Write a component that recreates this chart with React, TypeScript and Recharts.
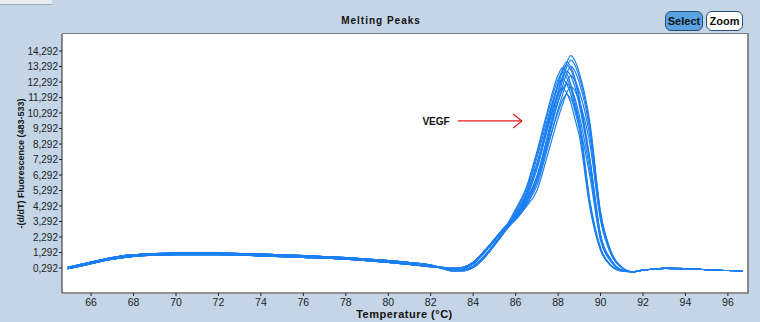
import { LineChart, Line, XAxis, YAxis, ReferenceLine, ReferenceDot } from "recharts";

// temperatures (°C) shared by all curves
const LEFT_TEMPS = [64.9, 66, 67, 68, 69, 70, 72, 74, 76, 78, 80, 81, 82];
const PEAK_TEMPS = [82.5, 83, 83.5, 84, 84.5, 85, 85.5, 86, 86.5, 87, 87.5, 88, 88.2, 88.4, 88.6, 88.8, 89, 89.5, 90, 90.5, 91];
const RIGHT_TEMPS = [91.5, 92, 92.5, 93, 94, 95, 96, 96.7];

// -(d/dT) fluorescence, in thousands; the flat parts are nearly the same for every well
const LEFT_LOW = [0.24, 0.58, 0.86, 1.04, 1.12, 1.15, 1.15, 1.08, 0.98, 0.86, 0.66, 0.53, 0.38];
const LEFT_HIGH = [0.34, 0.68, 0.97, 1.15, 1.23, 1.26, 1.26, 1.19, 1.09, 0.97, 0.77, 0.64, 0.48];
const RIGHT_VALUES = [0.05, 0.15, 0.23, 0.27, 0.25, 0.18, 0.13, 0.12];

// the melting peak of each well, 82.5 – 91 °C
const PEAKS = [
  [0.33, 0.22, 0.26, 0.56, 1.25, 2.05, 2.88, 4.09, 5.48, 7.79, 10.43, 12.74, 13.2, 12.87, 12.14, 10.96, 9.77, 4.62, 1.58, 0.46, 0.11],
  [0.3, 0.14, 0.16, 0.4, 1.02, 1.85, 2.74, 3.88, 5.19, 7.38, 9.88, 12.06, 12.5, 12.19, 11.5, 10.38, 9.25, 4.38, 1.5, 0.44, 0.1],
  [0.35, 0.28, 0.34, 0.66, 1.36, 2.14, 2.95, 3.69, 4.94, 7.02, 9.4, 11.48, 11.9, 11.6, 10.95, 9.88, 8.81, 4.17, 1.43, 0.42, 0.1],
  [0.28, 0.1, 0.1, 0.32, 0.92, 1.76, 2.66, 4.0, 5.35, 7.61, 10.19, 12.45, 12.9, 12.58, 11.87, 10.71, 9.55, 4.52, 1.55, 0.45, 0.1],
  [0.3, 0.14, 0.16, 0.4, 1.02, 1.85, 2.74, 3.75, 5.03, 6.94, 9.66, 12.24, 13.12, 13.6, 13.26, 12.51, 11.29, 7.34, 2.45, 0.82, 0.16],
  [0.35, 0.28, 0.34, 0.66, 1.36, 2.14, 2.95, 3.65, 4.81, 6.63, 9.23, 11.7, 12.55, 13.0, 12.68, 11.96, 10.79, 7.02, 2.34, 0.78, 0.16],
  [0.33, 0.22, 0.26, 0.56, 1.25, 2.05, 2.88, 3.55, 4.51, 6.22, 8.66, 10.98, 11.77, 12.2, 11.9, 11.22, 10.13, 6.59, 2.2, 0.73, 0.15],
  [0.28, 0.1, 0.1, 0.32, 0.92, 1.76, 2.66, 3.45, 4.3, 5.87, 8.17, 10.35, 11.1, 11.5, 11.21, 10.58, 9.55, 6.21, 2.07, 0.69, 0.14],
  [0.3, 0.14, 0.16, 0.4, 1.02, 1.85, 2.74, 3.72, 4.96, 6.83, 9.51, 12.06, 12.93, 13.4, 13.07, 12.33, 11.12, 7.24, 2.41, 0.8, 0.16],
  [0.33, 0.22, 0.26, 0.56, 1.25, 2.05, 2.88, 3.6, 4.75, 6.16, 8.82, 11.62, 12.6, 13.51, 14.0, 13.65, 12.88, 9.66, 3.92, 1.33, 0.35],
  [0.28, 0.1, 0.1, 0.32, 0.92, 1.76, 2.66, 3.55, 4.65, 6.03, 8.63, 11.37, 12.33, 13.22, 13.7, 13.36, 12.6, 9.45, 3.84, 1.3, 0.34],
  [0.3, 0.14, 0.16, 0.4, 1.02, 1.85, 2.74, 3.5, 4.55, 5.85, 8.38, 11.04, 11.97, 12.83, 13.3, 12.97, 12.24, 9.18, 3.72, 1.26, 0.33],
  [0.35, 0.28, 0.34, 0.66, 1.36, 2.14, 2.95, 3.45, 4.4, 5.59, 8.0, 10.54, 11.43, 12.26, 12.7, 12.38, 11.68, 8.76, 3.56, 1.21, 0.32],
  [0.33, 0.22, 0.26, 0.56, 1.25, 2.05, 2.88, 3.4, 4.25, 5.28, 7.56, 9.96, 10.8, 11.58, 12.0, 11.7, 11.04, 8.28, 3.36, 1.14, 0.3],
];

const X_TICKS = [66, 68, 70, 72, 74, 76, 78, 80, 82, 84, 86, 88, 90, 92, 94, 96];
const Y_TICKS = [0.292, 1.292, 2.292, 3.292, 4.292, 5.292, 6.292, 7.292, 8.292, 9.292, 10.292, 11.292, 12.292, 13.292, 14.292];

const temps = [...LEFT_TEMPS, ...PEAK_TEMPS, ...RIGHT_TEMPS];
const series = PEAKS.map((p, k) => [...(k % 2 ? LEFT_HIGH : LEFT_LOW), ...p, ...RIGHT_VALUES]);
const data = temps.map((t, i) => {
  const row: Record<string, number> = { t };
  series.forEach((s, k) => {
    row[`w${k}`] = s[i];
  });
  return row;
});

const LINE = "#1b7ff0";
const FONT = "'Liberation Sans', Arial, sans-serif";

const fmt = (v: number) => v.toFixed(3).replace(".", ",");

function Button({ left, label, active }: { left: number; label: string; active?: boolean }) {
  return (
    <div
      style={{
        position: "absolute",
        left,
        top: 11,
        width: active ? 36 : 35,
        height: 18,
        borderRadius: 6,
        border: "1px solid #2d4d6e",
        background: active ? "#5aa3e2" : "#fff",
        fontFamily: FONT,
        fontWeight: 700,
        fontSize: 11,
        lineHeight: "18px",
        textAlign: "center",
        color: "#111",
      }}
    >
      {label}
    </div>
  );
}

export default function App() {
  return (
    <div style={{ position: "absolute", left: 0, top: 0, width: 760, height: 322, background: "#c3d5e6", overflow: "hidden" }}>
      <div style={{ position: "absolute", left: 0, top: 0, width: 52, height: 4, background: "#e8edf2", borderBottom: "1px solid #9aa8b4" }} />
      <div
        style={{
          position: "absolute",
          left: 0,
          top: 15,
          width: 762,
          textAlign: "center",
          fontFamily: FONT,
          fontWeight: 700,
          fontSize: 10,
          letterSpacing: 1,
          color: "#111",
        }}
      >
        Melting Peaks
      </div>
      <Button left={665} label="Select" active />
      <Button left={706} label="Zoom" />
      <div
        style={{
          position: "absolute",
          left: 62,
          top: 33,
          width: 685,
          height: 260,
          background: "#fff",
          borderTop: "1px solid #7d7d7d",
          borderRight: "2px solid #8a8a8a",
        }}
      />
      <div style={{ position: "absolute", left: 0, top: 0 }}>
        <LineChart width={760} height={322} data={data} margin={{ top: 34, right: 13, bottom: 0, left: 0 }}>
          <XAxis
            dataKey="t"
            type="number"
            domain={[64.63, 96.9]}
            ticks={X_TICKS}
            interval={0}
            allowDataOverflow
            height={29}
            tick={{ fill: "#222", fontSize: 10.5, fontFamily: FONT }}
            tickSize={3}
            tickMargin={3}
            stroke="#222"
            label={{
              value: "Temperature (°C)",
              position: "insideBottom",
              offset: 4,
              style: { fill: "#111", fontSize: 11, fontWeight: 700, fontFamily: FONT, letterSpacing: 0.5 },
            }}
          />
          <YAxis
            type="number"
            domain={[-1.32, 15.39]}
            ticks={Y_TICKS}
            interval={0}
            allowDataOverflow
            width={62}
            tick={{ fill: "#222", fontSize: 10, fontFamily: FONT }}
            tickFormatter={fmt}
            tickSize={3}
            tickMargin={1}
            stroke="#222"
            label={{
              value: "-(d/dT) Fluorescence (483-533)",
              angle: -90,
              position: "center",
              dx: -10,
              style: { fill: "#111", fontSize: 9, fontWeight: 700, fontFamily: FONT, textAnchor: "middle" },
            }}
          />
          {PEAKS.map((_, k) => (
            <Line
              key={k}
              dataKey={`w${k}`}
              type="monotone"
              stroke={LINE}
              strokeWidth={1.2}
              dot={false}
              isAnimationActive={false}
            />
          ))}
          <ReferenceLine segment={[{ x: 83.28, y: 9.78 }, { x: 86.3, y: 9.78 }]} stroke="#e31b1b" strokeWidth={1.2} />
          <ReferenceLine segment={[{ x: 85.88, y: 10.23 }, { x: 86.3, y: 9.78 }]} stroke="#e31b1b" strokeWidth={1.2} />
          <ReferenceLine segment={[{ x: 85.88, y: 9.33 }, { x: 86.3, y: 9.78 }]} stroke="#e31b1b" strokeWidth={1.2} />
          <ReferenceDot
            x={82.25}
            y={9.78}
            r={0}
            label={{ value: "VEGF", position: "center", style: { fill: "#111", fontSize: 10, fontWeight: 700, fontFamily: FONT } }}
          />
        </LineChart>
      </div>
    </div>
  );
}
